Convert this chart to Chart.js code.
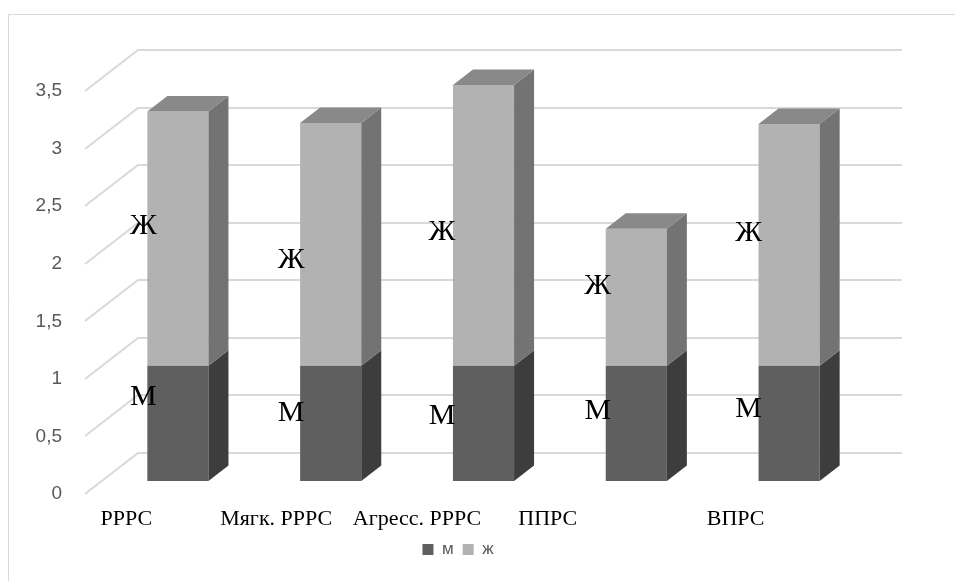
<!DOCTYPE html>
<html lang="ru">
<head>
<meta charset="utf-8">
<title>РРРС / ППРС / ВПРС</title>
<script src="https://cdn.jsdelivr.net/npm/chart.js@4/dist/chart.umd.min.js"></script>
<style>
  html, body { margin: 0; padding: 0; background: #ffffff; }
  #wrap { width: 955px; height: 581px; position: relative; }
  canvas { display: block; }
</style>
</head>
<body>
<div id="wrap"><canvas id="chart" width="955" height="581"></canvas></div>
<script>
// Categories and series values
const categories = ['РРРС', 'Мягк. РРРС', 'Агресс. РРРС', 'ППРС', 'ВПРС'];
const seriesNames = ['м', 'ж'];
const maleValues = [1, 1, 1, 1, 1];
const femaleValues = [2.21, 2.11, 2.44, 1.19, 2.10];

// Value axis range and tick step
const yMin = 0;
const yMax = 3.5;
const yStep = 0.5;

// --- layout of the 3D look (pixels) ---
const WALL_DX = 53, WALL_DY = -41;     // depth of the back wall
const BAR_DX = 16.5, BAR_DY = -13;     // bar front face behind the front edge
const SIDE_DX = 20, SIDE_DY = -15.5;   // bar thickness in depth
// category label shift from the category centre
const catLabelShift = [-35, -38, -50, -72, -37];
// series-name label anchors: [x shift from category centre, height М, height Ж] (axis units)
const nameAnchors = [
  [-18, 0.73, 2.21],
  [-23, 0.59, 1.92],
  [-25, 0.56, 2.16],
  [-22, 0.61, 1.69],
  [-24, 0.62, 2.15]
];

const frontColors = ['#5f5f5f', '#b2b2b2'];
const sideColors = ['#3d3d3d', '#737373'];
const topColors = ['#4a4a4a', '#898989'];

const depthPlugin = {
  id: 'depth3d',
  beforeDraw(chart) {
    const ctx = chart.ctx;
    ctx.save();
    ctx.fillStyle = '#ffffff';
    ctx.fillRect(0, 0, chart.width, chart.height);
    // outer frame
    ctx.strokeStyle = '#d9d9d9';
    ctx.lineWidth = 1;
    ctx.beginPath();
    ctx.moveTo(8.5, chart.height + 2);
    ctx.lineTo(8.5, 14.5);
    ctx.lineTo(chart.width + 2, 14.5);
    ctx.stroke();
    ctx.restore();
  },
  beforeDatasetsDraw(chart) {
    const ctx = chart.ctx;
    const y = chart.scales.y;
    const area = chart.chartArea;
    ctx.save();
    ctx.strokeStyle = '#d9d9d9';
    ctx.lineWidth = 2;
    y.ticks.forEach(t => {
      const fy = Math.round(y.getPixelForValue(t.value));
      ctx.beginPath();
      ctx.moveTo(area.left, fy);
      ctx.lineTo(area.left + WALL_DX, fy + WALL_DY);
      ctx.lineTo(area.right + WALL_DX, fy + WALL_DY);
      ctx.stroke();
    });
    ctx.restore();
    // bars sit a little behind the front edge
    ctx.save();
    ctx.translate(BAR_DX, BAR_DY);
  },
  afterDatasetsDraw(chart) {
    const ctx = chart.ctx;
    const last = chart.data.datasets.length - 1;
    chart.data.datasets.forEach((ds, d) => {
      const meta = chart.getDatasetMeta(d);
      meta.data.forEach(el => {
        const p = el.getProps(['x', 'y', 'base', 'width'], true);
        const left = p.x - p.width / 2, right = p.x + p.width / 2;
        const top = Math.min(p.y, p.base), bottom = Math.max(p.y, p.base);
        ctx.fillStyle = sideColors[d];
        ctx.beginPath();
        ctx.moveTo(right, top);
        ctx.lineTo(right + SIDE_DX, top + SIDE_DY);
        ctx.lineTo(right + SIDE_DX, bottom + SIDE_DY);
        ctx.lineTo(right, bottom);
        ctx.closePath();
        ctx.fill();
        if (d === last) {
          ctx.fillStyle = topColors[d];
          ctx.beginPath();
          ctx.moveTo(left, top);
          ctx.lineTo(left + SIDE_DX, top + SIDE_DY);
          ctx.lineTo(right + SIDE_DX, top + SIDE_DY);
          ctx.lineTo(right, top);
          ctx.closePath();
          ctx.fill();
        }
      });
    });
    ctx.restore();

    // series names beside the bars
    const yS = chart.scales.y, xS = chart.scales.x;
    ctx.save();
    ctx.fillStyle = '#000000';
    ctx.font = '30px "Liberation Serif", "Times New Roman", serif';
    ctx.textAlign = 'center';
    ctx.textBaseline = 'middle';
    categories.forEach((c, i) => {
      const a = nameAnchors[i];
      const x = xS.getPixelForValue(i) + a[0];
      chart.data.datasets.forEach((ds, d) => {
        const yy = yS.getPixelForValue(a[1 + d]) + BAR_DY;
        ctx.fillText(ds.label.toUpperCase(), x, yy);
      });
    });
    // category names under the floor
    ctx.font = '22px "Liberation Serif", "Times New Roman", serif';
    categories.forEach((c, i) => {
      const x = xS.getPixelForValue(i) + catLabelShift[i];
      ctx.fillText(c, x, chart.chartArea.bottom + 25);
    });
    ctx.restore();
  }
};

new Chart(document.getElementById('chart'), {
  type: 'bar',
  data: {
    labels: categories,
    datasets: [
      { label: seriesNames[0], data: maleValues, backgroundColor: frontColors[0], borderWidth: 0,
        categoryPercentage: 1, barPercentage: 0.4 },
      { label: seriesNames[1], data: femaleValues, backgroundColor: frontColors[1], borderWidth: 0,
        categoryPercentage: 1, barPercentage: 0.4 }
    ]
  },
  plugins: [depthPlugin],
  options: {
    responsive: false,
    animation: false,
    devicePixelRatio: 1,
    layout: { padding: { top: 91, left: 0, right: 39, bottom: 13 } },
    plugins: {
      legend: {
        position: 'bottom',
        labels: {
          boxWidth: 11, boxHeight: 11, padding: 9,
          color: '#595959',
          font: { family: '"Liberation Sans", Arial, sans-serif', size: 17 }
        }
      },
      tooltip: { enabled: false }
    },
    scales: {
      x: {
        stacked: true,
        grid: { display: false },
        border: { display: false },
        ticks: { display: false },
        afterFit: s => { s.height = 38; }
      },
      y: {
        stacked: true,
        min: yMin, max: yMax,
        grid: { display: false, drawTicks: false },
        border: { display: false },
        ticks: {
          stepSize: yStep,
          padding: 23,
          color: '#595959',
          font: { family: '"Liberation Sans", Arial, sans-serif', size: 19 },
          callback: v => String(v).replace('.', ',')
        },
        afterFit: s => { s.width = 85; }
      },
      yR: {
        type: 'linear',
        position: 'right',
        grid: { display: false },
        border: { display: false },
        ticks: { display: false },
        afterFit: s => { s.width = 67; }
      }
    }
  }
});
</script>
</body>
</html>
